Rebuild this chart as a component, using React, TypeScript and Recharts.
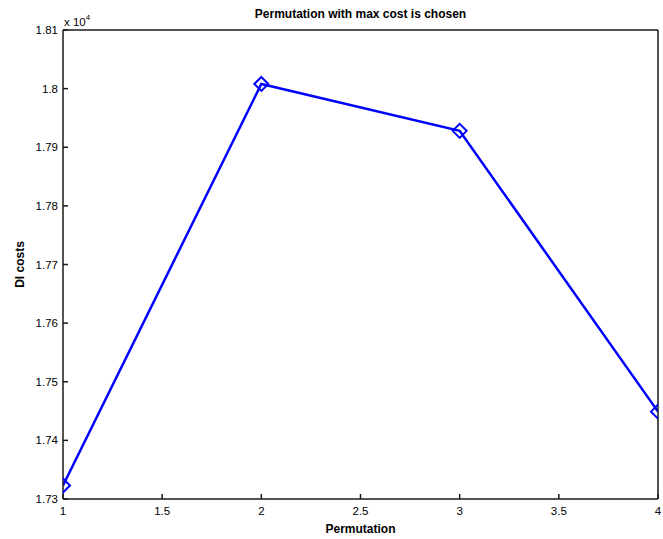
import React from 'react';
import { LineChart, Line, XAxis, YAxis, Label } from 'recharts';

// Permutation index vs DI cost (raw values, axis shows them x 10^4)
const PERMUTATIONS = [1, 2, 3, 4];
const DI_COSTS = [17323, 18008, 17928, 17449];
const X_TICKS = [1, 1.5, 2, 2.5, 3, 3.5, 4];
const Y_TICKS = [17300, 17400, 17500, 17600, 17700, 17800, 17900, 18000, 18100];

const data = PERMUTATIONS.map((p, i) => ({ perm: p, cost: DI_COSTS[i] }));

const FONT = 'Liberation Sans, Arial, Helvetica, sans-serif';
const BLUE = '#0000ff';
const AXIS = '#1a1a1a';

const fmtY = (v: number) => parseFloat((v / 10000).toFixed(4)).toString();

function Diamond(props: any) {
  const { cx, cy } = props;
  if (cx == null || cy == null) return null;
  const r = 7;
  return (
    <polygon
      points={`${cx},${cy - r} ${cx + r},${cy} ${cx},${cy + r} ${cx - r},${cy}`}
      fill="none"
      stroke={BLUE}
      strokeWidth={2}
    />
  );
}

export default function App() {
  return (
    <div style={{ position: 'absolute', left: 0, top: 0, width: 663, height: 539, background: '#fff', fontFamily: FONT }}>
      <div
        style={{
          position: 'absolute',
          top: 7,
          left: 63,
          width: 595,
          textAlign: 'center',
          fontSize: 12,
          fontWeight: 'bold',
          color: '#000',
        }}
      >
        Permutation with max cost is chosen
      </div>
      <div style={{ position: 'absolute', left: 64, top: 14, fontSize: 11.5, color: '#000' }}>
        x 10<sup style={{ fontSize: 8, position: 'relative', top: -1 }}>4</sup>
      </div>
      <LineChart
        width={663}
        height={539}
        data={data}
        margin={{ top: 29, right: 4, bottom: 0, left: 0 }}
      >
        <XAxis
          xAxisId="bottom"
          dataKey="perm"
          type="number"
          domain={[1, 4]}
          ticks={X_TICKS}
          height={40}
          tickSize={-5}
          tickMargin={13}
          stroke={AXIS}
          strokeWidth={1.5}
          tick={{ fill: '#000', fontSize: 11.5, fontFamily: FONT }}
          allowDataOverflow
        >
          <Label
            value="Permutation"
            position="insideBottom"
            offset={6}
            style={{ fontSize: 12, fontWeight: 'bold', fill: '#000', fontFamily: FONT }}
          />
        </XAxis>
        <XAxis
          xAxisId="top"
          orientation="top"
          dataKey="perm"
          type="number"
          domain={[1, 4]}
          ticks={X_TICKS}
          height={1}
          tickSize={-5}
          tick={false}
          stroke={AXIS}
          strokeWidth={1.5}
        />
        <YAxis
          yAxisId="left"
          type="number"
          domain={[17300, 18100]}
          ticks={Y_TICKS}
          width={63}
          tickSize={-5}
          tickMargin={10}
          tickFormatter={fmtY}
          stroke={AXIS}
          strokeWidth={1.5}
          tick={{ fill: '#000', fontSize: 11.5, fontFamily: FONT }}
          allowDataOverflow
        >
          <Label
            value="DI costs"
            angle={-90}
            position="insideLeft"
            offset={20}
            style={{ fontSize: 12, fontWeight: 'bold', fill: '#000', fontFamily: FONT, textAnchor: 'middle' }}
          />
        </YAxis>
        <YAxis
          yAxisId="right"
          orientation="right"
          type="number"
          domain={[17300, 18100]}
          ticks={Y_TICKS}
          width={1}
          tickSize={-5}
          tick={false}
          stroke={AXIS}
          strokeWidth={1.5}
        />
        <Line
          xAxisId="bottom"
          yAxisId="left"
          type="linear"
          dataKey="cost"
          stroke={BLUE}
          strokeWidth={2.5}
          dot={<Diamond />}
          activeDot={false}
          isAnimationActive={false}
        />
      </LineChart>
    </div>
  );
}
